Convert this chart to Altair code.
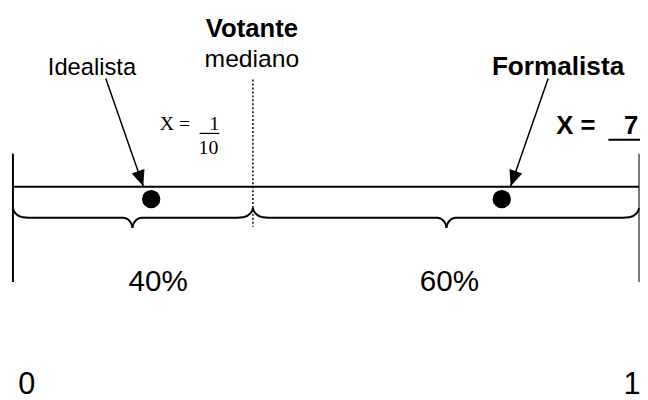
import math
import altair as alt
import pandas as pd

# ---------------- values (page pixels) ----------------
# the policy line and its end posts
AXIS_ENDS = [13, 647]          # x of the 0 and 1 ends
AXIS_Y = 186.5
POST_TOP, POST_BOTTOM = 153, 283

# median voter (dotted line)
MEDIAN_X = 256
MEDIAN_TOP, MEDIAN_BOTTOM = 78, 227

# the two parties (dots)
PARTIES = ["Idealista", "Formalista"]
PARTY_X = [153, 508]
PARTY_Y = [199, 199]

# arrows from the labels to the dots
ARROW_FROM_X = [107, 555]
ARROW_FROM_Y = [77, 77]
ARROW_TO_X = [145, 517]
ARROW_TO_Y = [186, 186]

# braces under the line: (left end, tip, right end)
BRACES = [(13, 134, 256), (256, 452, 647)]
BRACE_END_Y, BRACE_FLAT_Y, BRACE_TIP_Y = 208, 218, 228
# profile of a brace end curve and of its tip curve (dx, dy from the corner)
END_DX = [0, 1, 3, 6, 10, 16]
END_DY = [0, 3.5, 6, 8.2, 9.5, 10]
TIP_DX = [0, 0.6, 1.8, 3.8, 6.2, 9]
TIP_DY = [0, -3, -5.5, -7.8, -9.3, -10]

# labels
SANS_TEXT = ["mediano", "Idealista", "40%", "60%", "0", "1"]
SANS_X = [255, 93, 160, 455, 27, 640]
SANS_Y = [65, 73, 292, 292, 396, 396]
SANS_SIZE = [25, 24, 30, 30, 31, 31]

BOLD_TEXT = ["Votante", "Formalista", "X =", "7"]
BOLD_X = [255, 565, 583, 639]
BOLD_Y = [35, 73, 133, 133]
BOLD_SIZE = [26, 26.5, 26, 26]

SERIF_TEXT = ["X =", "1", "10"]
SERIF_X = [177, 217, 211]
SERIF_Y = [129, 129, 153]
SERIF_SIZE = [20, 20, 20]

# short rules: fraction bar and the underline of "X = _7"
FRACTION_BAR = (202, 222, 132.5)
UNDERLINE = (616, 648, 139)

# ---------------- build ----------------
xs = alt.Scale(domain=[8, 648], nice=False, zero=False)
ys = alt.Scale(domain=[8, 400], reverse=True, nice=False, zero=False)
X = lambda f="x": alt.X(f"{f}:Q", scale=xs, axis=None)
Y = lambda f="y": alt.Y(f"{f}:Q", scale=ys, axis=None)


def rule_layer(rows, **kw):
    df = pd.DataFrame(rows, columns=["x", "x2", "y", "y2"])
    return alt.Chart(df).mark_rule(color="black", **kw).encode(
        x=X(), x2="x2:Q", y=Y(), y2="y2:Q")


def text_layer(texts, xs_, ys_, sizes, font, weight="normal"):
    df = pd.DataFrame({"t": texts, "x": xs_, "y": ys_, "s": sizes})
    return alt.Chart(df).mark_text(
        font=font, fontWeight=weight, align="center", baseline="alphabetic",
        color="black").encode(x=X(), y=Y(), text="t:N",
                              size=alt.Size("s:Q", scale=None))


layers = []
# main line
layers.append(rule_layer([(AXIS_ENDS[0], AXIS_ENDS[1], AXIS_Y, AXIS_Y)], strokeWidth=2))
# posts
layers.append(rule_layer([(AXIS_ENDS[0], AXIS_ENDS[0], POST_TOP, POST_BOTTOM)], strokeWidth=2))
layers.append(rule_layer([(AXIS_ENDS[1], AXIS_ENDS[1], POST_TOP, POST_BOTTOM)],
                         strokeWidth=1.5, opacity=0.7))
# median
layers.append(rule_layer([(MEDIAN_X, MEDIAN_X, MEDIAN_TOP, MEDIAN_BOTTOM)],
                         strokeWidth=1.5, strokeDash=[2, 2]))
# fraction bar & underline
layers.append(rule_layer([(FRACTION_BAR[0], FRACTION_BAR[1], FRACTION_BAR[2], FRACTION_BAR[2])],
                         strokeWidth=1.2))
layers.append(rule_layer([(UNDERLINE[0], UNDERLINE[1], UNDERLINE[2], UNDERLINE[2])],
                         strokeWidth=2))
# arrow shafts
layers.append(rule_layer(list(zip(ARROW_FROM_X, ARROW_TO_X, ARROW_FROM_Y, ARROW_TO_Y)),
                         strokeWidth=1.5))
# arrow heads
angles = []
for fx, fy, tx, ty in zip(ARROW_FROM_X, ARROW_FROM_Y, ARROW_TO_X, ARROW_TO_Y):
    a = math.degrees(math.atan2(tx - fx, -(ty - fy)))
    angles.append(a % 360)
heads = pd.DataFrame({"x": ARROW_TO_X, "y": ARROW_TO_Y, "a": angles})
layers.append(alt.Chart(heads).mark_point(
    shape="M0,0L0.85,2L-0.85,2Z", filled=True, opacity=1, color="black",
    size=256, strokeWidth=0).encode(x=X(), y=Y(),
                                    angle=alt.Angle("a:Q", scale=None)))
# party dots
dots = pd.DataFrame({"p": PARTIES, "x": PARTY_X, "y": PARTY_Y})
layers.append(alt.Chart(dots).mark_circle(size=346, opacity=1, color="black").encode(
    x=X(), y=Y()))

# braces
pts = []
for b, (x0, xt, x1) in enumerate(BRACES):
    # left half: left end -> tip
    seg = f"{b}a"
    half = [(x0 + dx, BRACE_END_Y + dy) for dx, dy in zip(END_DX, END_DY)]
    half += [(xt - dx, BRACE_TIP_Y + dy) for dx, dy in zip(TIP_DX, TIP_DY)][::-1]
    pts += [(seg, i, x, y) for i, (x, y) in enumerate(half)]
    # right half: tip -> right end
    seg = f"{b}b"
    half = [(xt + dx, BRACE_TIP_Y + dy) for dx, dy in zip(TIP_DX, TIP_DY)]
    half += [(x1 - dx, BRACE_END_Y + dy) for dx, dy in zip(END_DX, END_DY)][::-1]
    pts += [(seg, i, x, y) for i, (x, y) in enumerate(half)]
brace_df = pd.DataFrame(pts, columns=["seg", "i", "x", "y"])
layers.append(alt.Chart(brace_df).mark_line(color="black", strokeWidth=2).encode(
    x=X(), y=Y(), detail="seg:N", order="i:Q"))

# texts
layers.append(text_layer(SANS_TEXT, SANS_X, SANS_Y, SANS_SIZE, "Liberation Sans"))
layers.append(text_layer(BOLD_TEXT, BOLD_X, BOLD_Y, BOLD_SIZE, "Liberation Sans", "bold"))
layers.append(text_layer(SERIF_TEXT, SERIF_X, SERIF_Y, SERIF_SIZE, "Liberation Serif"))

chart = alt.layer(*layers).properties(
    width=640, height=392, padding=0, autosize="none"
).configure_view(stroke=None)

chart.save("out.html", embed_options={"renderer": "svg", "actions": False})
